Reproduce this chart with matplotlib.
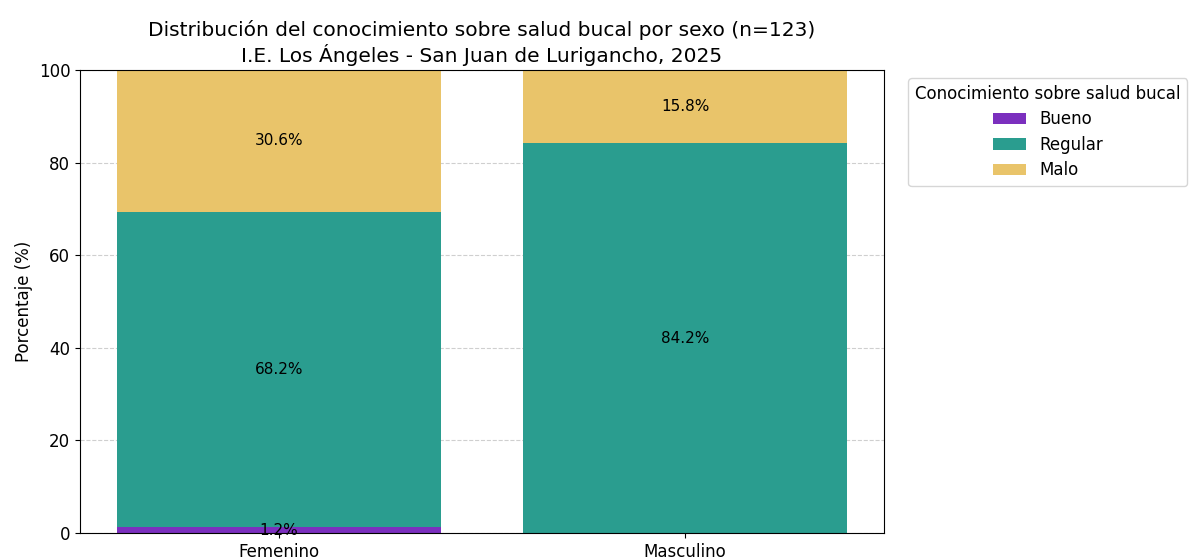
import matplotlib
matplotlib.use("Agg")
import matplotlib.pyplot as plt
import numpy as np

categories = ["Femenino", "Masculino"]
levels = ["Bueno", "Regular", "Malo"]
bueno = [1.2, 0.0]
regular = [68.2, 84.2]
malo = [30.6, 15.8]
colors = ["#7B2FBE", "#2A9D8F", "#E9C46A"]

fig = plt.figure(figsize=(11.9, 5.6), dpi=100)
ax = fig.add_axes([80/1190, 1 - 533/560, (884-80)/1190, (533-70)/560])

x = np.arange(len(categories))
bottom = np.zeros(len(categories))
for name, vals, c in zip(levels, [bueno, regular, malo], colors):
    vals = np.array(vals)
    ax.bar(x, vals, 0.8, bottom=bottom, color=c, label=name, zorder=2)
    for xi, v, b in zip(x, vals, bottom):
        if v > 0:
            ax.text(xi, b + v/2, f"{v:.1f}%", ha="center", va="center", fontsize=11, zorder=3)
    bottom += vals

ax.set_ylim(0, 100)
ax.set_xticks(x)
ax.set_xticklabels(categories, fontsize=12)
ax.tick_params(axis="y", labelsize=12)
ax.set_ylabel("Porcentaje (%)", fontsize=12)
ax.yaxis.grid(True, linestyle="--", alpha=0.6, zorder=0)
ax.set_axisbelow(True)
ax.set_title("Distribución del conocimiento sobre salud bucal por sexo (n=123)\nI.E. Los Ángeles - San Juan de Lurigancho, 2025", fontsize=14.5)
ax.legend(title="Conocimiento sobre salud bucal", bbox_to_anchor=(1.02, 1), loc="upper left",
          fontsize=12, title_fontsize=12, labelspacing=0.45)

fig.savefig("out.png", dpi=100)
